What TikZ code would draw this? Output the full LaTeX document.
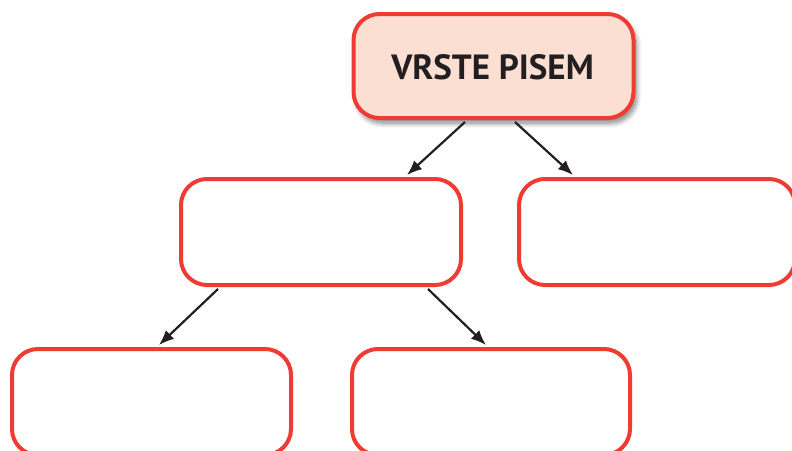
\documentclass[tikz,border=0pt]{standalone}
\usepackage{fontspec}
\setmainfont{PT Sans}
\usetikzlibrary{arrows.meta,calc,shadows.blur}
\definecolor{boxred}{HTML}{EE3B33}
\definecolor{peach}{HTML}{FBDFD3}
\definecolor{ink}{HTML}{231F20}
\tikzset{
  box/.style={draw=boxred, line width=4pt, rounded corners=26pt, fill=white, inner sep=0pt},
  topbox/.style={box, fill=peach, blur shadow={shadow xshift=3pt, shadow yshift=-5pt, shadow opacity=50, shadow blur steps=10, shadow blur radius=5pt}},
  arr/.style={draw=ink, line width=2.2pt, -{Latex[length=15pt,width=12pt]}}
}
\begin{document}
\begin{tikzpicture}[x=1pt,y=-1pt]
\useasboundingbox (0,0) rectangle (792,450);
\node[topbox, minimum width=280pt, minimum height=104pt] (top) at (493.5,66) {};
\node[text=ink, font=\bfseries\fontsize{35}{40}\selectfont] (title) at (492.5,67) {VRSTE PISEM};
\node[box, minimum width=280pt, minimum height=106pt] (ml) at (321,232) {};
\node[box, minimum width=276pt, minimum height=106pt] (mr) at (657,232) {};
\node[box, minimum width=279pt, minimum height=106pt] (bl) at (151.5,402) {};
\node[box, minimum width=278pt, minimum height=106pt] (bm) at (491,402) {};
\draw[arr] ($(top.south)+(-28.5,2)$) -- ($(ml.north)+(86,-2)$);
\draw[arr] ($(top.south)+(21.5,2)$) -- ($(mr.north)+(-84,-2)$);
\draw[arr] ($(ml.south)+(-103,2)$) -- ($(bl.north)+(7.5,-2)$);
\draw[arr] ($(ml.south)+(107,2)$) -- ($(bm.north)+(-5,-2)$);
\end{tikzpicture}
\end{document}
